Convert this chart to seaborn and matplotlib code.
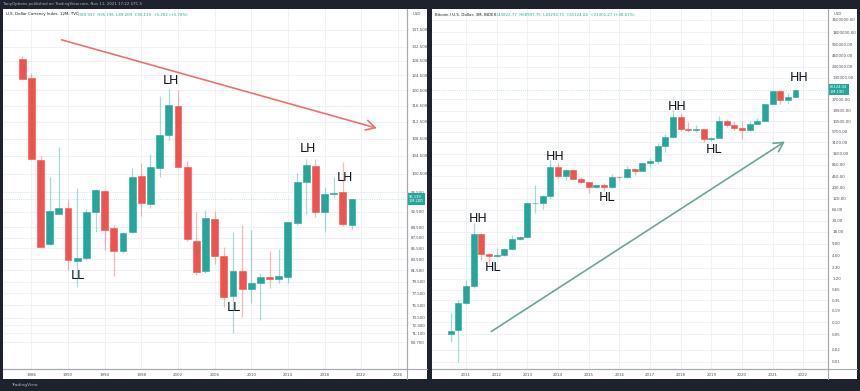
import numpy as np
import pandas as pd
import seaborn as sns
import matplotlib.pyplot as plt
from matplotlib.patches import Rectangle
from matplotlib.lines import Line2D
from matplotlib.ticker import NullLocator

# ---- DXY yearly candles (12M) ----
dxy_years = list(range(1985, 2022))
dxy_open = [129.0, 123.8, 103.6, 86.3, 92.1, 93.3, 83.1, 83.7, 92.5, 96.8, 89.3, 84.9, 88.6, 100.0,
            94.1, 101.8, 109.3, 116.5, 102.0, 86.9, 81.4, 91.0, 84.0, 77.1, 81.4, 78.2, 79.3, 80.3,
            80.0, 80.3, 90.4, 98.7, 102.2, 92.5, 96.1, 96.6, 89.937]
dxy_high = [129.8, 125.1, 104.5, 99.8, 106.5, 94.9, 97.4, 93.0, 97.2, 97.0, 89.9, 88.6, 101.8, 102.9,
            104.9, 119.0, 120.8, 120.6, 103.3, 92.5, 92.9, 92.7, 85.7, 88.6, 89.9, 88.9, 81.0, 85.0,
            85.4, 90.6, 100.6, 103.8, 103.8, 97.6, 99.8, 103.1, 95.196]
dxy_low = [123.3, 103.6, 85.5, 86.0, 92.0, 81.5, 78.6, 83.4, 88.6, 85.2, 80.5, 84.6, 88.4, 91.7,
           93.3, 99.8, 108.2, 101.8, 86.8, 80.6, 81.0, 82.6, 75.2, 71.1, 73.6, 75.9, 73.1, 78.4,
           79.3, 79.3, 90.0, 92.1, 91.5, 88.6, 95.3, 89.7, 89.209]
dxy_close = [123.5, 103.8, 85.7, 92.7, 93.3, 83.3, 83.7, 92.5, 97.0, 88.9, 85.0, 88.4, 99.8, 94.3,
             102.0, 109.3, 116.7, 102.0, 87.2, 81.2, 91.3, 84.1, 76.9, 81.4, 78.2, 79.3, 80.3, 80.0,
             80.4, 90.5, 98.7, 102.4, 92.5, 96.2, 96.4, 90.1, 95.139]
dxy_ticks = [137.5, 132.5, 128.5, 124.5, 120.5, 116.5, 112.5, 108.5, 104.5, 100.5, 96.5, 92.5,
             89.5, 87.5, 85.5, 83.5, 81.5, 79.5, 77.5, 75.5, 73.5, 72.3, 71.1, 69.7]
dxy_xlabels = list(range(1986, 2027, 4))

# ---- BTC quarterly candles (3M) ----
btc_quarters = pd.period_range('2010Q3', '2021Q4', freq='Q')
btc_open = [0.050, 0.063, 0.30, 0.78, 16, 5.0, 4.5, 4.8, 6.7, 12, 13.4, 93, 97, 142, 760, 450, 640,
            380, 318, 244, 263, 236, 430, 416, 672, 608, 960, 1070, 2480, 4300, 13500, 6900, 6400,
            6630, 3700, 4100, 10800, 8300, 7200, 6400, 9140, 10780, 28900, 58800, 35000, 43822.77]
btc_high = [0.17, 0.35, 1.13, 30, 17, 5.2, 7.1, 7.0, 15, 14, 100, 268, 150, 1100, 950, 680, 660,
            430, 320, 270, 300, 500, 460, 780, 700, 980, 1290, 2990, 5000, 19700, 17200, 9900, 8500,
            6800, 4200, 13900, 12300, 10400, 10500, 10400, 12500, 29300, 61800, 64800, 52900, 68997.75]
btc_low = [0.032, 0.01, 0.28, 0.70, 3.6, 2.7, 4.2, 4.6, 6.5, 11.5, 13, 53, 67, 120, 400, 360, 370,
           300, 169, 220, 190, 230, 350, 410, 470, 600, 750, 900, 1790, 4100, 5900, 5800, 5800,
           3120, 3350, 4050, 7700, 6500, 3800, 6150, 8900, 10400, 28200, 28800, 29300, 43294.71]
btc_close = [0.060, 0.30, 0.80, 16, 5.0, 4.5, 4.8, 6.7, 12, 13.4, 95, 97, 142, 760, 450, 640, 380,
             318, 240, 263, 236, 430, 416, 672, 608, 960, 1070, 2480, 4300, 13500, 6900, 6400, 6630,
             3700, 4100, 10800, 8300, 7200, 6400, 9140, 10780, 28900, 58800, 35000, 43800, 65124.04]
btc_ticks = [3600000, 1800000, 900000, 460000, 240000, 130000, 37000, 19500, 10500, 5700,
             3100, 1600, 850, 450, 230, 120, 64, 34, 18, 9, 4.5, 2.3, 1.2, 0.65, 0.35, 0.19, 0.10,
             0.05, 0.02, 0.01]
btc_xlabels = list(range(2011, 2023))

GREEN = '#26a69a'
RED = '#ef5350'
GRID = '#eef1f6'
AXLINE = '#a6a9b1'
TXT = '#50535e'
W, H = 860, 391

sns.set_theme(style='white')
plt.rcParams['font.family'] = ['DejaVu Sans']


def fx(px):
    return px / W


def fy(py):
    return 1 - py / H


def candles(ax, x, o, h, l, c, width):
    df = pd.DataFrame({'x': x, 'o': o, 'h': h, 'l': l, 'c': c})
    col = np.where(df.c >= df.o, GREEN, RED)
    lo = np.minimum(df.o, df.c)
    hi = np.maximum(df.o, df.c)
    ax.vlines(df.x, df.l, df.h, colors=col, alpha=0.4, lw=0.9, zorder=2)
    ax.bar(df.x, hi - lo, bottom=lo, width=width, color=col, edgecolor=col, lw=0.4, zorder=3)


def style_axes(ax, yticks, yfmt, xticks, xlim, ylim):
    ax.set_yscale('log')
    ax.set_xlim(*xlim)
    ax.set_ylim(*ylim)
    ax.set_facecolor('white')
    ax.yaxis.tick_right()
    ax.set_yticks(yticks)
    ax.set_yticklabels([yfmt.format(v) for v in yticks])
    ax.yaxis.set_minor_locator(NullLocator())
    ax.set_xticks(xticks)
    ax.set_xticklabels([str(v) for v in xticks])
    ax.tick_params(axis='both', length=0, labelsize=2.9, labelcolor=TXT)
    ax.tick_params(axis='y', pad=3)
    ax.tick_params(axis='x', pad=3.2)
    for v in yticks:
        ax.axhline(v, color=GRID, lw=0.7, zorder=0)
    for v in xticks:
        ax.axvline(v, color=GRID, lw=0.7, zorder=0)
    for s in ['top', 'left']:
        ax.spines[s].set_visible(False)
    for s in ['right', 'bottom']:
        ax.spines[s].set_color(AXLINE)
        ax.spines[s].set_linewidth(0.8)


fig = plt.figure(figsize=(8.6, 3.91), dpi=100)
fig.patch.set_facecolor('#1e222d')

# white panels
for x0, x1 in [(3, 427), (432, 857)]:
    fig.patches.append(Rectangle((fx(x0), fy(379)), fx(x1 - x0), (379 - 9) / H,
                                 transform=fig.transFigure, fc='white', ec='none', zorder=-1))

ax1 = fig.add_axes([fx(3), fy(369), fx(404), 360 / H])
ax2 = fig.add_axes([fx(432), fy(369), fx(396), 360 / H])

# left: DXY
style_axes(ax1, dxy_ticks, '{:.3f}', dxy_xlabels, (1982.9, 2027.0), (65.75, 143.8))
candles(ax1, dxy_years, dxy_open, dxy_high, dxy_low, dxy_close, 0.75)
ax1.axhline(dxy_close[-1], color=GREEN, alpha=0.35, lw=0.6, ls=':', zorder=1)
ax1.text(1.005, dxy_close[-1], f'{dxy_close[-1]:.3f}\n1M 20D', transform=ax1.get_yaxis_transform(),
         ha='left', va='center', fontsize=2.6, color='white', linespacing=1.1,
         bbox=dict(boxstyle='square,pad=0.45', fc=GREEN, ec='none'))
for lab, x, y in [('LH', 2001.2, 123.0), ('LL', 1991.1, 80.65), ('LL', 2008.1, 75.2),
                  ('LH', 2016.2, 106.1), ('LH', 2020.2, 99.8)]:
    ax1.text(x, y, lab, ha='center', va='center', fontsize=9, color='#131722', zorder=5)
ax1.annotate('', xy=(2024.0, 110.8), xytext=(1989.0, 134.7),
             arrowprops=dict(arrowstyle='->,head_length=0.55,head_width=0.3', color='#f0716c', lw=1.2))

# right: BTC
bx = [p.year + (p.quarter - 1) / 4 for p in btc_quarters]
style_axes(ax2, btc_ticks, '{:.2f}', btc_xlabels, (2009.89, 2022.81), (0.00668, 6.78e6))
candles(ax2, bx, btc_open, btc_high, btc_low, btc_close, 0.195)
ax2.axhline(btc_close[-1], color=GREEN, alpha=0.35, lw=0.6, ls=':', zorder=1)
ax2.text(1.005, btc_close[-1], f'{btc_close[-1]:.2f}\n1M 19D', transform=ax2.get_yaxis_transform(),
         ha='left', va='center', fontsize=2.6, color='white', linespacing=1.1,
         bbox=dict(boxstyle='square,pad=0.45', fc=GREEN, ec='none'))
for lab, x, y in [('HH', 2011.39, 37.8), ('HL', 2011.88, 2.25), ('HH', 2013.90, 1345),
                  ('HL', 2015.60, 134), ('HH', 2017.89, 23970), ('HL', 2019.09, 2130),
                  ('HH', 2021.87, 127400)]:
    ax2.text(x, y, lab, ha='center', va='center', fontsize=9, color='#131722', zorder=5)
ax2.annotate('', xy=(2021.48, 3580), xytext=(2011.75, 0.0532),
             arrowprops=dict(arrowstyle='->,head_length=0.55,head_width=0.3', color='#6fa598', lw=1.2))

# axis frame lines extending into the corner boxes
for xa, x0, x1 in [(407, 3, 427), (828, 432, 857)]:
    fig.lines.append(Line2D([fx(xa), fx(xa)], [fy(9), fy(379)], transform=fig.transFigure,
                            color=AXLINE, lw=0.8))
    fig.lines.append(Line2D([fx(x0), fx(x1)], [fy(369), fy(369)], transform=fig.transFigure,
                            color=AXLINE, lw=0.8))
    fig.text(fx(xa + 6), fy(14), 'USD', fontsize=2.8, color=TXT, va='center')

# headers
fig.text(fx(3), fy(4.5), 'TonyOptions published on TradingView.com, Nov 11, 2021 17:22 UTC-5',
         fontsize=2.8, color='#b2b5be', va='center')
fig.text(fx(6), fy(14.5), 'U.S. Dollar Currency Index, 12M, TVC ', fontsize=2.8, color='#131722', va='center')
fig.text(fx(78), fy(14.5), 'O89.937  H95.196  L89.209  C95.139  +5.202 (+5.78%)', fontsize=2.8,
         color=GREEN, va='center')
fig.text(fx(435), fy(14.5), 'Bitcoin / U.S. Dollar, 3M, INDEX ', fontsize=2.8, color='#131722', va='center')
fig.text(fx(495), fy(14.5), 'O43822.77  H68997.75  L43294.71  C65124.04  +21301.27 (+48.61%)',
         fontsize=2.8, color=GREEN, va='center')
fig.text(fx(11), fy(385), 'TradingView', fontsize=3.2, color='#b2b5be', va='center')

fig.savefig('out.png', dpi=100, facecolor=fig.get_facecolor())
